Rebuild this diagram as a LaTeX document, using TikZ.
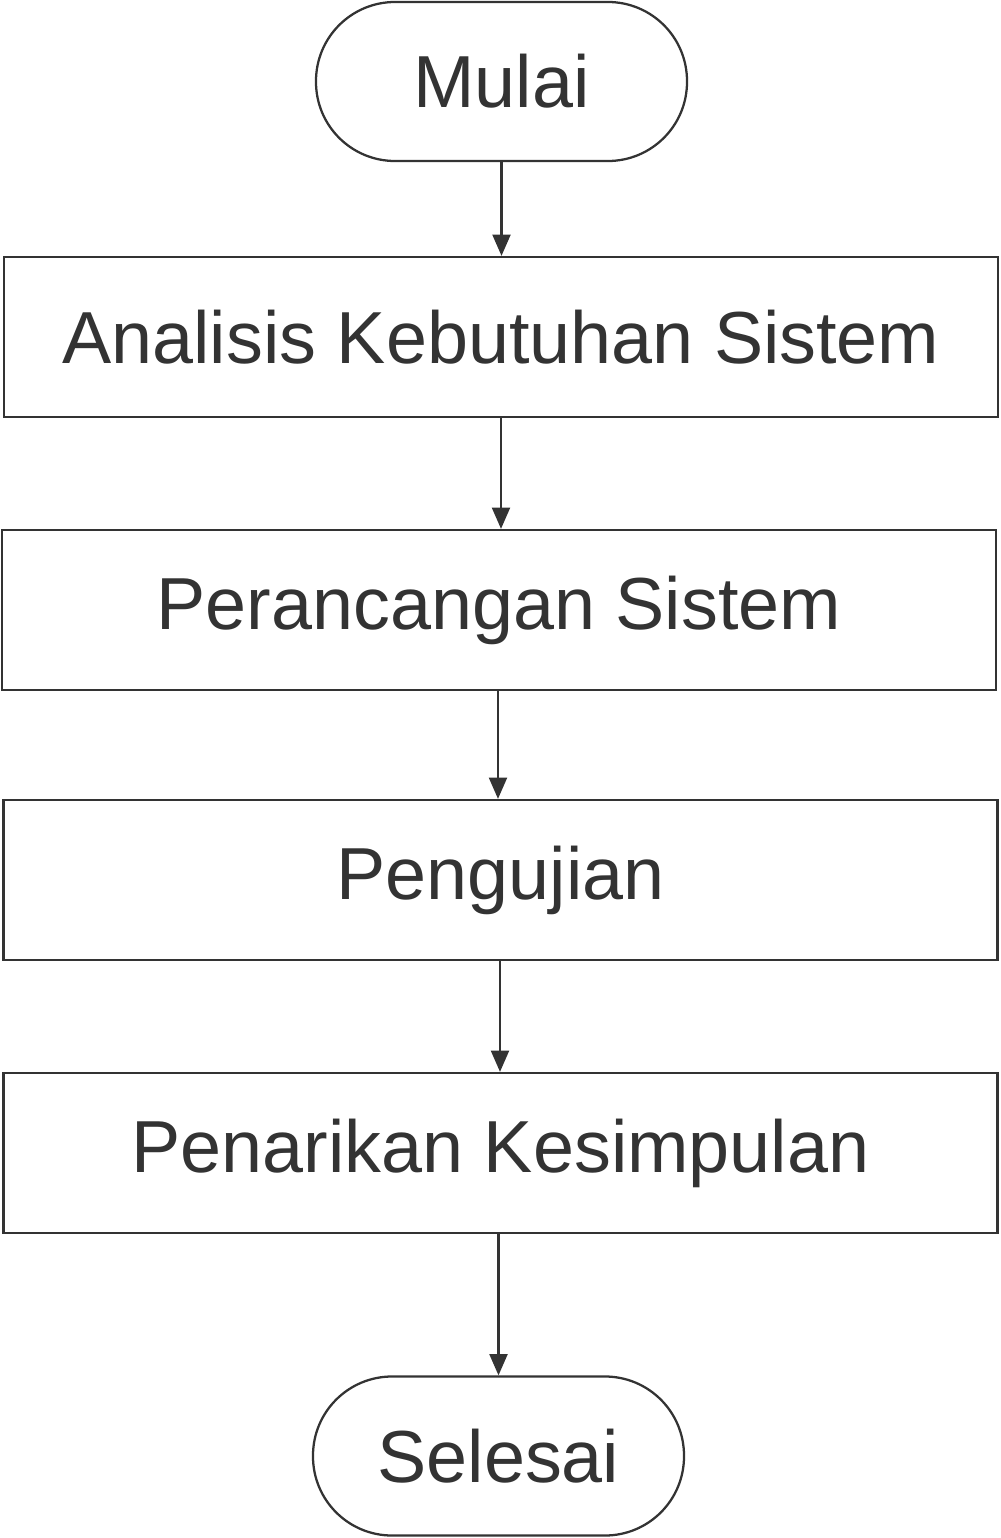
\documentclass[tikz,border=0pt]{standalone}
\usepackage{fontspec}
\setmainfont{Liberation Sans}
\usetikzlibrary{arrows.meta}
\definecolor{ink}{HTML}{333333}
\begin{document}
\begin{tikzpicture}[x=0.75pt,y=-0.75pt,
  box/.style={draw=ink,line width=1.7pt,minimum width=994*0.75pt,minimum height=160*0.75pt,inner sep=0pt,text=ink,font=\fontsize{55.3}{57}\selectfont},
  term/.style={box,minimum width=371*0.75pt,minimum height=159*0.75pt,rounded corners=79*0.75pt},
  arr/.style={draw=ink,line width=1.7pt,-{Triangle[length=16pt,width=13.5pt]}}]
\useasboundingbox (0,0) rectangle (1000,1538);
\node[term] (mulai) at (501.5,81.5) {Mulai};
\node[box] (analisis) at (501,337) {Analisis Kebutuhan Sistem};
\node[box] (rancang) at (499,610) {Perancangan Sistem};
\node[box] (uji) at (500.5,880) {Pengujian};
\node[box] (tarik) at (500.5,1153) {Penarikan Kesimpulan};
\node[term] (selesai) at (498.5,1456) {Selesai};
\draw[arr] (mulai.south) -- (mulai.south |- analisis.north);
\draw[arr] (analisis.south) -- (analisis.south |- rancang.north);
\draw[arr] ([xshift=-0.75pt]rancang.south) -- ([xshift=-0.75pt]rancang.south |- uji.north);
\draw[arr] ([xshift=-0.375pt]uji.south) -- ([xshift=-0.375pt]uji.south |- tarik.north);
\draw[arr] (selesai.north |- tarik.south) -- (selesai.north);
\end{tikzpicture}
\end{document}
